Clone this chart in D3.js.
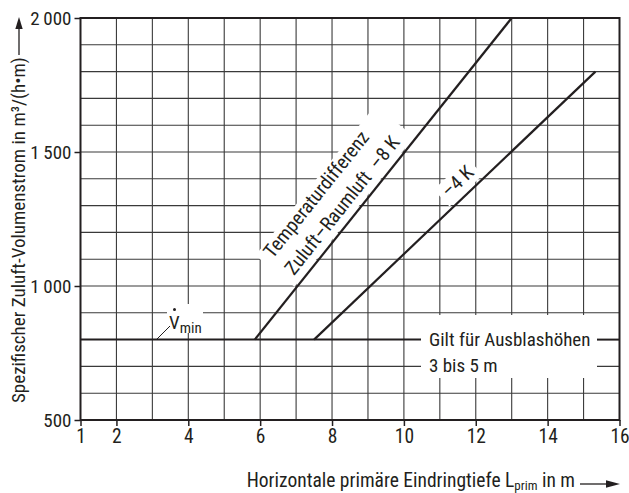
<!DOCTYPE html>
<html><head><meta charset="utf-8">
<script src="https://cdn.jsdelivr.net/npm/d3@7"></script>
<style>
body{margin:0;background:#fff}
text{font-family:"Liberation Sans Narrow","Arial Narrow","Roboto Condensed",sans-serif;fill:#231f20}
</style>
</head><body><svg id="c" width="629" height="493"></svg>
<script>
// ---- data ----
const xTicks = [1, 2, 4, 6, 8, 10, 12, 14, 16];
const xTickLabels = ["1", "2", "4", "6", "8", "10", "12", "14", "16"];
const xGrid = [2, 3, 4, 5, 6, 7, 8, 9, 10, 11, 12, 13, 14, 15];
const yTicks = [500, 1000, 1500, 2000];
const yTickLabels = ["500", "1\u2009000", "1\u2009500", "2\u2009000"];
const yGrid = [600, 700, 800, 900, 1000, 1100, 1200, 1300, 1400, 1500, 1600, 1700, 1800, 1900];
const lineMinus8K = [[5.85, 800], [13, 2000]];
const lineMinus4K = [[7.5, 800], [15.33, 1800]];
const vMin = 800;
const label8K = ["Temperaturdifferenz", "Zuluft\u2013Raumluft  \u20138 K"];
const label4K = "\u20134 K";
const noteLines = ["Gilt für Ausblashöhen", "3 bis 5 m"];
const xTitle = ["Horizontale primäre Eindringtiefe L", "prim", " in m"];
const yTitle = "Spezifischer Zuluft-Volumenstrom in m³/(h•m)";

// ---- drawing ----
const svg = d3.select("#c");
const x = d3.scaleLinear().domain([1, 16]).range([80.5, 619.5]);
const y = d3.scaleLinear().domain([500, 2000]).range([420, 18]);
const ink = "#231f20";

svg.append("rect").attr("width", 629).attr("height", 493).attr("fill", "#fff");

// grid
const g = svg.append("g");
g.selectAll(".gx").data(xGrid).join("line")
  .attr("x1", d => x(d)).attr("x2", d => x(d)).attr("y1", y(500)).attr("y2", y(2000))
  .attr("stroke", "#3a3a3a").attr("stroke-width", 1.1);
g.selectAll(".gy").data(yGrid.filter(d => d !== vMin)).join("line")
  .attr("x1", x(1)).attr("x2", x(16)).attr("y1", d => y(d)).attr("y2", d => y(d))
  .attr("stroke", "#3a3a3a").attr("stroke-width", 1.1);

function frame(pts) {
  const p0 = [x(pts[0][0]), y(pts[0][1])];
  const p1 = [x(pts[1][0]), y(pts[1][1])];
  const ang = Math.atan2(p1[1] - p0[1], p1[0] - p0[0]) * 180 / Math.PI;
  return {p0, ang};
}

// -8K label
const f8 = frame(lineMinus8K);
const lab8 = svg.append("g").attr("transform", `translate(${f8.p0[0]},${f8.p0[1]}) rotate(${f8.ang})`);
lab8.append("rect").attr("x", 66).attr("y", -52).attr("width", 192).attr("height", 50).attr("fill", "#fff");
lab8.append("text").attr("x", 74).attr("y", -36).attr("font-size", 19.5).text(label8K[0]);
lab8.append("text").attr("x", 74).attr("y", -9).attr("font-size", 19.5).attr("xml:space", "preserve").text(label8K[1]);

// -4K label
const f4 = frame(lineMinus4K);
const lab4 = svg.append("g").attr("transform", `translate(${f4.p0[0]},${f4.p0[1]}) rotate(${f4.ang})`);
lab4.append("rect").attr("x", 190).attr("y", -26).attr("width", 46).attr("height", 23).attr("fill", "#fff");
lab4.append("text").attr("x", 195).attr("y", -9).attr("font-size", 19.5).text(label4K);

// Vmin label box
const vb = svg.append("g");
vb.append("rect").attr("x", 167).attr("y", 304).attr("width", 36).attr("height", 29).attr("fill", "#fff");
const vt = vb.append("text").attr("x", 169).attr("y", 329).attr("font-size", 19);
vt.append("tspan").text("V");
vt.append("tspan").attr("font-size", 15).attr("dy", 4).text("min");
vb.append("circle").attr("cx", 174.5).attr("cy", 309.5).attr("r", 1.5).attr("fill", ink);
vb.append("line").attr("x1", 157).attr("y1", 339).attr("x2", 170).attr("y2", 326).attr("stroke", ink).attr("stroke-width", 1);

// Vmin line with gap for note
const noteL = 421, noteR = 597;
svg.append("line").attr("x1", x(1)).attr("x2", noteL).attr("y1", y(vMin)).attr("y2", y(vMin))
  .attr("stroke", ink).attr("stroke-width", 2);
svg.append("line").attr("x1", noteR).attr("x2", x(16)).attr("y1", y(vMin)).attr("y2", y(vMin))
  .attr("stroke", ink).attr("stroke-width", 2);

// note box
svg.append("rect").attr("x", noteL).attr("y", 315).attr("width", noteR - noteL).attr("height", 63).attr("fill", "#fff");
svg.append("text").attr("x", 429).attr("y", 346).attr("font-size", 19).text(noteLines[0]);
svg.append("text").attr("x", 429).attr("y", 372).attr("font-size", 19).text(noteLines[1]);

// curves
const lineGen = d3.line().x(d => x(d[0])).y(d => y(d[1]));
[lineMinus8K, lineMinus4K].forEach(d => {
  svg.append("path").attr("d", lineGen(d)).attr("fill", "none").attr("stroke", ink).attr("stroke-width", 2.2);
});

// frame
svg.append("rect").attr("x", x(1)).attr("y", y(2000)).attr("width", x(16) - x(1)).attr("height", y(500) - y(2000))
  .attr("fill", "none").attr("stroke", ink).attr("stroke-width", 2);

// axes
const yAxis = d3.axisLeft(y).tickValues(yTicks).tickSize(6).tickPadding(3)
  .tickFormat((d, i) => yTickLabels[i]);
const ya = svg.append("g").attr("transform", `translate(${x(1)},0)`).call(yAxis);
ya.select(".domain").remove();
ya.attr("font-family", null);
ya.selectAll("line").attr("stroke", ink).attr("stroke-width", 1.5);
ya.selectAll("text").attr("font-size", 19).attr("fill", ink);

const xAxis = d3.axisBottom(x).tickValues(xTicks).tickSize(6).tickPadding(3)
  .tickFormat((d, i) => xTickLabels[i]);
const xa = svg.append("g").attr("transform", `translate(0,${y(500)})`).call(xAxis);
xa.select(".domain").remove();
xa.attr("font-family", null);
xa.selectAll("line").attr("stroke", ink).attr("stroke-width", 1.5);
xa.selectAll("text").attr("font-size", 19.5).attr("fill", ink);

// x title
const xt = svg.append("text").attr("x", 575).attr("y", 487).attr("text-anchor", "end").attr("font-size", 19.5);
xt.append("tspan").text(xTitle[0]);
xt.append("tspan").attr("font-size", 13).attr("dy", 3).text(xTitle[1]);
xt.append("tspan").attr("dy", -3).attr("xml:space", "preserve").text(xTitle[2]);
svg.append("line").attr("x1", 580).attr("x2", 608).attr("y1", 484).attr("y2", 484).attr("stroke", ink).attr("stroke-width", 1.3);
svg.append("path").attr("d", "M620,484 L606,480.3 L606,487.7 Z").attr("fill", ink);

// y title
svg.append("text").attr("transform", "translate(25,403) rotate(-90)").attr("font-size", 19).text(yTitle);
svg.append("line").attr("x1", 19).attr("x2", 19).attr("y1", 55).attr("y2", 27).attr("stroke", ink).attr("stroke-width", 1.3);
svg.append("path").attr("d", "M19,17 L15.3,29 L22.7,29 Z").attr("fill", ink);
</script>
</body></html>
